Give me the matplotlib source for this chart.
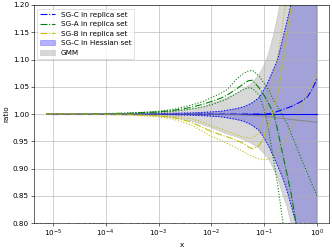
import numpy as np
from matplotlib import pyplot as plt

# sample points in x
x = [7.6e-6, 1e-5, 3e-5, 1e-4, 3e-4, 1e-3, 2e-3, 4e-3, 7e-3, 0.01, 0.015, 0.02, 0.03, 0.04, 0.05,
     0.06, 0.08, 0.1, 0.12, 0.15, 0.18, 0.22, 0.27, 0.33, 0.4, 0.5, 0.65, 0.8, 1.0]

# SG-C in Hessian set
hess_lo = [1.0, 1.0, 1.0, 0.9998, 0.9995, 0.999, 0.9985, 0.998, 0.997, 0.996, 0.995, 0.993, 0.99, 0.987, 0.983,
           0.979, 0.97, 0.956, 0.942, 0.922, 0.905, 0.885, 0.86, 0.83, 0.80, 0.76, 0.70, 0.64, 0.55]
hess_hi = [1.0, 1.0, 1.0, 1.0002, 1.0005, 1.001, 1.0015, 1.002, 1.003, 1.004, 1.005, 1.007, 1.01, 1.013, 1.017,
           1.021, 1.03, 1.045, 1.06, 1.082, 1.10, 1.135, 1.17, 1.205, 1.26, 1.33, 1.42, 1.5, 1.6]
hess_c = [1.0] * len(x)

# GMM
gmm_lo = [1.0, 1.0, 0.9997, 0.999, 0.998, 0.996, 0.993, 0.988, 0.98, 0.975, 0.968, 0.963, 0.958, 0.953, 0.949,
          0.945, 0.937, 0.927, 0.918, 0.90, 0.882, 0.855, 0.83, 0.795, 0.76, 0.71, 0.64, 0.58, 0.5]
gmm_hi = [1.0, 1.0, 1.0003, 1.001, 1.002, 1.004, 1.006, 1.009, 1.013, 1.02, 1.025, 1.03, 1.038, 1.045, 1.052,
          1.058, 1.072, 1.09, 1.11, 1.145, 1.18, 1.225, 1.29, 1.37, 1.45, 1.55, 1.7, 1.85, 2.0]
gmm_c = [1.0, 1.0, 1.0, 1.0, 1.0, 1.0, 1.0, 0.9998, 0.9997, 0.9995, 0.9993, 0.9992, 0.999, 0.9985, 0.998,
         0.9977, 0.997, 0.996, 0.9953, 0.9945, 0.993, 0.992, 0.991, 0.99, 0.989, 0.988, 0.987, 0.986, 0.985]

# SG-C in replica set
sgc_c = [1.0, 1.0, 1.0, 1.0, 1.0, 1.0, 1.0, 1.0, 1.0, 1.0, 1.0, 1.0, 1.0, 1.0, 1.0,
         1.0, 1.0, 1.0, 1.0005, 1.002, 1.005, 1.008, 1.011, 1.014, 1.018, 1.023, 1.031, 1.044, 1.065]
sgc_lo = hess_lo
sgc_hi = hess_hi

# SG-A in replica set
sga_c = [1.0, 1.0, 1.0, 1.0005, 1.0015, 1.004, 1.007, 1.012, 1.018, 1.023, 1.029, 1.035, 1.046, 1.055, 1.061,
         1.062, 1.048, 1.034, 1.02, 1.002, 0.97, 0.93, 0.89, 0.85, 0.80, 0.72, 0.62, 0.55, 0.48]
sga_lo = [1.0, 1.0, 1.0, 1.0003, 1.001, 1.003, 1.005, 1.009, 1.013, 1.017, 1.023, 1.028, 1.038, 1.045, 1.048,
          1.047, 1.035, 1.008, 0.975, 0.916, 0.87, 0.81, 0.74, 0.66, 0.58, 0.48, 0.35, 0.25, 0.15]
sga_hi = [1.0, 1.0, 1.0005, 1.001, 1.002, 1.005, 1.009, 1.016, 1.023, 1.03, 1.038, 1.045, 1.064, 1.074, 1.079,
          1.08, 1.07, 1.056, 1.045, 1.026, 1.013, 0.998, 0.983, 0.962, 0.943, 0.918, 0.893, 0.872, 0.85]

# SG-B in replica set
sgb_c = [1.0, 1.0, 1.0, 0.9995, 0.999, 0.997, 0.993, 0.986, 0.975, 0.968, 0.962, 0.958, 0.952, 0.946, 0.94,
         0.936, 0.942, 0.958, 0.976, 1.005, 1.035, 1.085, 1.14, 1.2, 1.26, 1.35, 1.45, 1.55, 1.65]
sgb_lo = [1.0, 1.0, 0.9997, 0.999, 0.998, 0.995, 0.99, 0.981, 0.968, 0.959, 0.952, 0.946, 0.938, 0.931, 0.926,
          0.922, 0.918, 0.916, 0.917, 0.921, 0.93, 0.942, 0.958, 0.976, 0.993, 1.012, 1.035, 1.055, 1.075]
sgb_hi = [1.0, 1.0, 0.9998, 0.9995, 0.9995, 0.998, 0.996, 0.992, 0.985, 0.978, 0.973, 0.968, 0.962, 0.958, 0.956,
          0.956, 0.965, 0.995, 1.025, 1.065, 1.105, 1.16, 1.22, 1.29, 1.37, 1.45, 1.55, 1.65, 1.75]

fig = plt.figure(figsize=(6.4, 4.8))
ax = fig.add_subplot(111)
fig.subplots_adjust(left=0.102, right=0.991, bottom=0.104, top=0.980)

band_h = ax.fill_between(x, hess_lo, hess_hi, color='b', alpha=0.3, label='SG-C in Hessian set')
band_g = ax.fill_between(x, gmm_lo, gmm_hi, color='gray', alpha=0.3, label='GMM')
ax.plot(x, hess_c, 'b-')

line_c, = ax.plot(x, sgc_c, 'b-.', label='SG-C in replica set')
ax.plot(x, sgc_lo, 'b:')
ax.plot(x, sgc_hi, 'b:')
line_a, = ax.plot(x, sga_c, 'g-.', label='SG-A in replica set')
ax.plot(x, sga_lo, 'g:')
ax.plot(x, sga_hi, 'g:')
line_b, = ax.plot(x, sgb_c, 'y-.', label='SG-B in replica set')
ax.plot(x, sgb_lo, 'y:')
ax.plot(x, sgb_hi, 'y:')
ax.plot(x, gmm_c, '-', color='gray', alpha=0.8)

ax.set_xscale('log')
ax.set_xlim(10**-5.36, 10**0.227)
ax.set_ylim(0.8, 1.2)
ax.set_yticks(np.arange(0.8, 1.201, 0.05))
ax.set_xlabel('x')
ax.set_ylabel('ratio')
ax.grid(True)
ax.legend(handles=[line_c, line_a, line_b, band_h, band_g], loc='upper left')

fig.savefig('out.png', dpi=51.875)
